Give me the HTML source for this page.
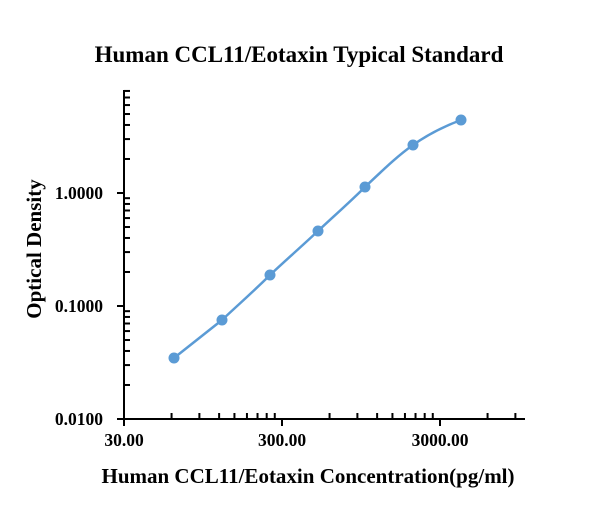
<!DOCTYPE html>
<html><head><meta charset="utf-8"><style>
body{margin:0;background:#fff;}
text{font-family:"Liberation Serif",serif;font-weight:bold;fill:#000;}
</style></head><body>
<svg id="s" width="616" height="525" xmlns="http://www.w3.org/2000/svg">
<rect width="616" height="525" fill="#fff"/>
<text x="299" y="62" text-anchor="middle" font-size="23">Human CCL11/Eotaxin Typical Standard</text>
<text x="308" y="483" text-anchor="middle" font-size="21">Human CCL11/Eotaxin Concentration(pg/ml)</text>
<text transform="translate(41,249) rotate(-90)" text-anchor="middle" font-size="21">Optical Density</text>
<g font-size="17.5">
<text x="103" y="199" text-anchor="end">1.0000</text>
<text x="103" y="312" text-anchor="end">0.1000</text>
<text x="103" y="425" text-anchor="end">0.0100</text>
<text x="124" y="446" text-anchor="middle">30.00</text>
<text x="282" y="446" text-anchor="middle">300.00</text>
<text x="440" y="446" text-anchor="middle">3000.00</text>
</g>
<g id="ax" stroke="#000" stroke-width="2" fill="none">
<line x1="124" y1="90" x2="124" y2="420"/>
<line x1="123" y1="419" x2="525" y2="419"/>
</g>
<path d="M174,358 L222,320 C238,305 255,290 270,275 C286,260 302,246 318,231 C334,216 350,202 365,187 C381,172 396,157 413,145 C430,133 445,126 461,120" stroke="#5b9bd5" stroke-width="2.5" fill="none"/>
<g fill="#5b9bd5">
<circle cx="174" cy="358" r="5.5"/><circle cx="222" cy="320" r="5.5"/><circle cx="270" cy="275" r="5.5"/>
<circle cx="318" cy="231" r="5.5"/><circle cx="365" cy="187" r="5.5"/><circle cx="413" cy="145" r="5.5"/>
<circle cx="461" cy="120" r="5.5"/>
</g>
</svg>
<script>
var g=document.getElementById('ax'),ns="http://www.w3.org/2000/svg";
function L(a,b,c,d){var l=document.createElementNS(ns,'line');l.setAttribute('x1',a);l.setAttribute('y1',b);l.setAttribute('x2',c);l.setAttribute('y2',d);g.appendChild(l);}
for(var d=0;d<3;d++){for(var m=1;m<10;m++){var y=419-113*(d+Math.log10(m));if(y<89)continue;if(m==1)L(117,y,124,y);else L(124,y,130,y);}}
for(var d=0;d<3;d++){for(var m=1;m<10;m++){var x=124+158*(d+Math.log10(m));if(x>526)continue;if(m==1)L(x,419,x,426);else L(x,419,x,413);}}
</script>
</body></html>
